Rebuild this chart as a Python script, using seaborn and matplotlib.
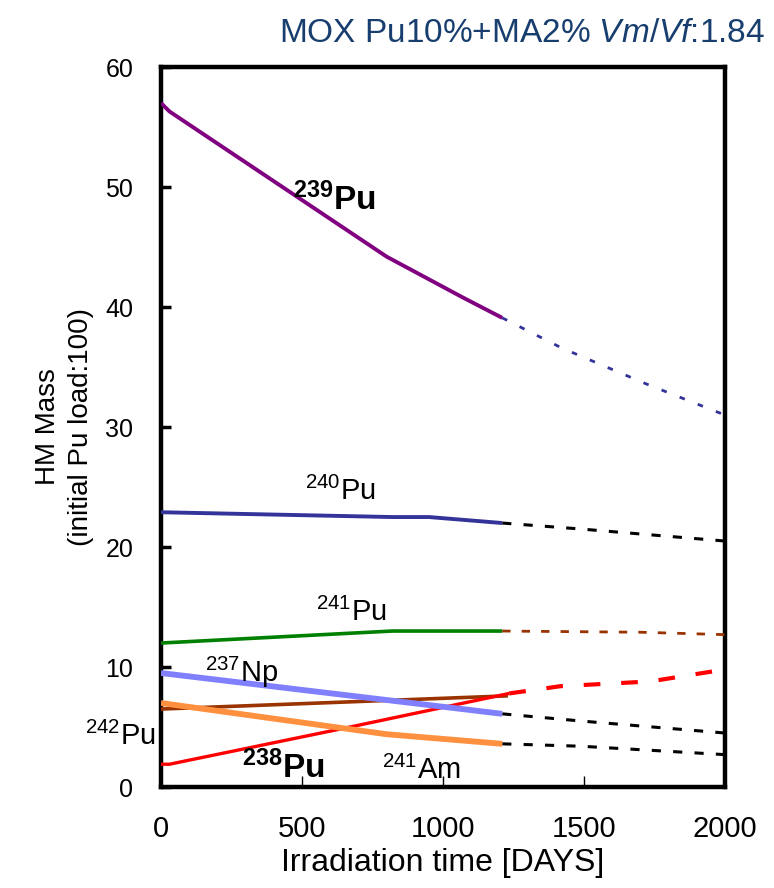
import matplotlib
matplotlib.use("Agg")
import matplotlib.pyplot as plt
import seaborn as sns
import pandas as pd

sns.set_theme(style="white")
plt.rcParams['font.family'] = ['Liberation Sans', 'DejaVu Sans']
plt.rcParams['mathtext.fontset'] = 'custom'
plt.rcParams['mathtext.default'] = 'regular'
plt.rcParams['mathtext.it'] = 'Liberation Sans:italic'
plt.rcParams['mathtext.rm'] = 'Liberation Sans'
for k in ['text.color', 'axes.labelcolor', 'xtick.color', 'ytick.color']:
    plt.rcParams[k] = 'black'

# ---- data (days, HM mass) ----
pu239_days = [0, 30, 800, 1070, 1210]
pu239_mass = [57.0, 56.3, 44.2, 40.8, 39.1]
pu239_ext_days = [1210, 1420, 1720, 2000]
pu239_ext_mass = [39.1, 36.6, 33.6, 31.0]

pu240_days = [0, 820, 950, 1210]
pu240_mass = [22.9, 22.5, 22.5, 22.0]
pu240_ext_days = [1210, 1490, 2000]
pu240_ext_mass = [22.0, 21.5, 20.5]

pu241_days = [0, 820, 1210]
pu241_mass = [12.0, 13.0, 13.0]
pu241_ext_days = [1210, 1700, 2000]
pu241_ext_mass = [13.0, 12.9, 12.7]

np237_days = [0, 1210]
np237_mass = [9.5, 6.1]
np237_ext_days = [1210, 1490, 2000]
np237_ext_mass = [6.1, 5.5, 4.5]

pu242_days = [0, 1230]
pu242_mass = [6.5, 7.6]

am241_days = [0, 800, 1210]
am241_mass = [7.0, 4.4, 3.6]
am241_ext_days = [1210, 1490, 2000]
am241_ext_mass = [3.6, 3.4, 2.7]

pu238_days = [0, 30, 670, 1235]
pu238_mass = [1.9, 1.9, 5.0, 7.8]
pu238_ext_days = [1235, 1415, 1735, 2000]
pu238_ext_mass = [7.8, 8.4, 8.8, 9.8]

x_ticks = [0, 500, 1000, 1500, 2000]
y_ticks = [0, 10, 20, 30, 40, 50, 60]

fig = plt.figure(figsize=(7.74, 8.88), dpi=100)
ax = fig.add_axes([0.208, 0.1137, 0.9367 - 0.208, 0.9245 - 0.1137])


def draw(days, mass, color, lw, dashes=None, zorder=3):
    df = pd.DataFrame({"d": days, "m": mass})
    sns.lineplot(data=df, x="d", y="m", ax=ax, color=color, lw=lw,
                 sort=False, estimator=None, zorder=zorder)
    line = ax.lines[-1]
    if dashes is not None:
        line.set_dashes(dashes)
    line.set_solid_capstyle('butt')
    line.set_dash_capstyle('butt')


# extensions
draw(pu239_ext_days, pu239_ext_mass, '#333399', 2.0, dashes=(2, 5))
draw(pu240_ext_days, pu240_ext_mass, 'black', 2.2, dashes=(3, 4))
draw(pu241_ext_days, pu241_ext_mass, '#993300', 2.0, dashes=(3, 4))
draw(np237_ext_days, np237_ext_mass, 'black', 2.2, dashes=(3, 4))
draw(am241_ext_days, am241_ext_mass, 'black', 2.2, dashes=(3, 4))
draw(pu238_ext_days, pu238_ext_mass, '#FF0000', 3.0, dashes=(4, 5))

# main lines
draw(pu239_days, pu239_mass, '#800080', 2.8)
draw(pu240_days, pu240_mass, '#333399', 2.8)
draw(pu241_days, pu241_mass, '#008000', 2.6)
draw(pu242_days, pu242_mass, '#993300', 2.6)
draw(pu238_days, pu238_mass, '#FF0000', 2.4)
draw(am241_days, am241_mass, '#FF9040', 4.2)
draw(np237_days, np237_mass, '#8080FF', 4.2)

ax.set_xlim(0, 2000)
ax.set_ylim(0, 60)
ax.set_xticks(x_ticks)
ax.set_yticks(y_ticks)
ax.set_xticklabels([str(t) for t in x_ticks], fontsize=21)
ax.set_yticklabels([str(t) for t in y_ticks], fontsize=18)
ax.tick_params(axis='y', direction='in', length=7, width=2.5, pad=20, left=True)
ax.tick_params(axis='x', direction='in', length=8, width=1, pad=20, bottom=True)

for sp in ax.spines.values():
    sp.set_linewidth(3.2)
    sp.set_color('black')

ax.set_xlabel("Irradiation time [DAYS]", fontsize=23, labelpad=4)
ax.set_ylabel("HM Mass\n(initial Pu load:100)", fontsize=20, labelpad=8,
              linespacing=1.35)

# isotope labels
lab_kw = dict(va='baseline', ha='left', clip_on=False)
ax.text(468, 48.1, r'$^{239}$Pu', fontweight='bold', fontsize=24, **lab_kw)
ax.text(511, 23.9, r'$^{240}$Pu', fontsize=21, **lab_kw)
ax.text(550, 13.8, r'$^{241}$Pu', fontsize=21, **lab_kw)
ax.text(156, 8.75, r'$^{237}$Np', fontsize=21, **lab_kw)
ax.text(-270, 3.5, r'$^{242}$Pu', fontsize=21, **lab_kw)
ax.text(287, 0.75, r'$^{238}$Pu', fontweight='bold', fontsize=24, **lab_kw)
ax.text(784, 0.65, r'$^{241}$Am', fontsize=21, **lab_kw)

fig.text(0.988, 0.953, r'MOX Pu10%+MA2% $\it{Vm/Vf}$:1.84', ha='right',
         va='baseline', fontsize=24, color='#173E6E')

fig.savefig("out.png", dpi=100, facecolor='white')
